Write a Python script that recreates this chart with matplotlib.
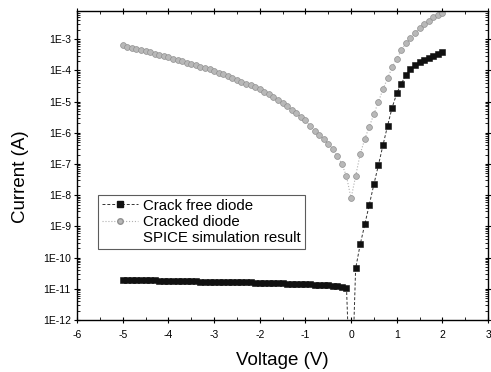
import numpy as np
import matplotlib
matplotlib.use("Agg")
from matplotlib import pyplot as plt
from matplotlib.lines import Line2D
from matplotlib.ticker import FixedLocator, MultipleLocator, LogLocator, NullFormatter

plt.rcParams['font.family'] = ['Liberation Sans', 'DejaVu Sans']

# --- data (log10 of current) ---
v_rev = [-5.0, -4.9, -4.8, -4.7, -4.6, -4.5, -4.4, -4.3, -4.2, -4.1,
         -4.0, -3.9, -3.8, -3.7, -3.6, -3.5, -3.4, -3.3, -3.2, -3.1,
         -3.0, -2.9, -2.8, -2.7, -2.6, -2.5, -2.4, -2.3, -2.2, -2.1,
         -2.0, -1.9, -1.8, -1.7, -1.6, -1.5, -1.4, -1.3, -1.2, -1.1,
         -1.0, -0.9, -0.8, -0.7, -0.6, -0.5, -0.4, -0.3, -0.2, -0.1]
crackfree_rev = [-10.71, -10.71, -10.72, -10.72, -10.72, -10.73, -10.73, -10.73, -10.74, -10.74,
                 -10.74, -10.75, -10.75, -10.75, -10.76, -10.76, -10.76, -10.77, -10.77, -10.77,
                 -10.78, -10.78, -10.78, -10.79, -10.79, -10.79, -10.80, -10.80, -10.80, -10.81,
                 -10.81, -10.81, -10.82, -10.82, -10.83, -10.83, -10.84, -10.84, -10.85, -10.85,
                 -10.86, -10.86, -10.87, -10.87, -10.88, -10.89, -10.90, -10.91, -10.93, -10.97]
cracked_rev = [-3.20, -3.24, -3.28, -3.31, -3.35, -3.39, -3.42, -3.46, -3.50, -3.54,
               -3.58, -3.62, -3.66, -3.70, -3.75, -3.79, -3.83, -3.88, -3.93, -3.97,
               -4.02, -4.07, -4.12, -4.18, -4.24, -4.30, -4.36, -4.42, -4.48, -4.54,
               -4.60, -4.68, -4.76, -4.85, -4.95, -5.05, -5.15, -5.26, -5.37, -5.48,
               -5.60, -5.78, -5.95, -6.08, -6.20, -6.35, -6.52, -6.75, -7.00, -7.40]

v_fwd = [0.0, 0.1, 0.2, 0.3, 0.4, 0.5, 0.6, 0.7, 0.8, 0.9, 1.0,
         1.1, 1.2, 1.3, 1.4, 1.5, 1.6, 1.7, 1.8, 1.9, 2.0]
crackfree_fwd = [-15.0, -10.35, -9.58, -8.94, -8.30, -7.65, -7.03, -6.39, -5.77, -5.19, -4.74,
                 -4.42, -4.16, -3.97, -3.84, -3.74, -3.66, -3.59, -3.53, -3.47, -3.42]
cracked_fwd = [-8.10, -7.39, -6.68, -6.20, -5.80, -5.40, -5.00, -4.60, -4.25, -3.90, -3.62,
               -3.36, -3.12, -2.95, -2.80, -2.65, -2.52, -2.40, -2.30, -2.22, -2.15]

labels = ["Crack free diode", "Cracked diode", "SPICE simulation result"]
ytick_exp = [-12, -11, -10, -9, -8, -7, -6, -5, -4, -3]
xticks = [-6, -5, -4, -3, -2, -1, 0, 1, 2, 3]

v = np.array(v_rev + v_fwd)
i_free = 10.0 ** np.array(crackfree_rev + crackfree_fwd)
i_crack = 10.0 ** np.array(cracked_rev + cracked_fwd)

fig = plt.figure(figsize=(4.91, 3.72), dpi=100)
ax = fig.add_axes([0.157, 0.140, 0.837, 0.830])

ax.plot(v, i_crack, ls=':', lw=0.8, color='#b0b0b0',
        marker='o', ms=4.2, mfc='#b8b8b8', mec='#909090', mew=0.5)
ax.plot(v, i_free, ls='--', lw=0.7, color='#333333', dashes=(3, 2),
        marker='s', ms=4.6, mfc='#111111', mec='#111111', mew=0.4)

ax.set_yscale('log')
ax.set_xlim(-6, 3)
ax.set_ylim(1e-12, 10 ** -2.1)

ax.set_xticks(xticks)
ax.set_xticklabels([str(t) for t in xticks])
ax.xaxis.set_minor_locator(MultipleLocator(0.5))

ax.yaxis.set_major_locator(FixedLocator([10.0 ** e for e in ytick_exp]))
ax.set_yticklabels([f"1E{e}" for e in ytick_exp])
ax.yaxis.set_minor_locator(LogLocator(base=10, subs=np.arange(2, 10), numticks=30))
ax.yaxis.set_minor_formatter(NullFormatter())

ax.tick_params(which='major', direction='inout', length=5, width=0.8,
               top=True, right=True, labelsize=7.5)
ax.tick_params(axis='x', which='major', pad=5)
ax.tick_params(axis='y', which='major', pad=2)
ax.tick_params(which='minor', direction='in', length=2.5, width=0.6,
               top=True, right=True)
for s in ax.spines.values():
    s.set_linewidth(1.0)

ax.set_xlabel("Voltage (V)", fontsize=13.5)
ax.xaxis.set_label_coords(0.50, -0.105)
ax.set_ylabel("Current (A)", fontsize=13.5)
ax.yaxis.set_label_coords(-0.118, 0.465)

handles = [
    Line2D([], [], ls='--', lw=0.7, color='#333333', dashes=(3, 2), marker='s', ms=4,
           mfc='#111111', mec='#111111'),
    Line2D([], [], ls=':', lw=0.8, color='#b0b0b0', marker='o', ms=4,
           mfc='#b8b8b8', mec='#909090'),
    Line2D([], [], ls='-', lw=0.8, color='white'),
]
leg = ax.legend(handles, labels, loc='upper left', bbox_to_anchor=(0.051, 0.405),
                fontsize=10.8, frameon=True, fancybox=False, edgecolor='#333333',
                handlelength=2.4, handletextpad=0.35, borderpad=0.25,
                labelspacing=0.15, borderaxespad=0)
leg.get_frame().set_linewidth(0.8)

fig.savefig("out.png", dpi=100)
